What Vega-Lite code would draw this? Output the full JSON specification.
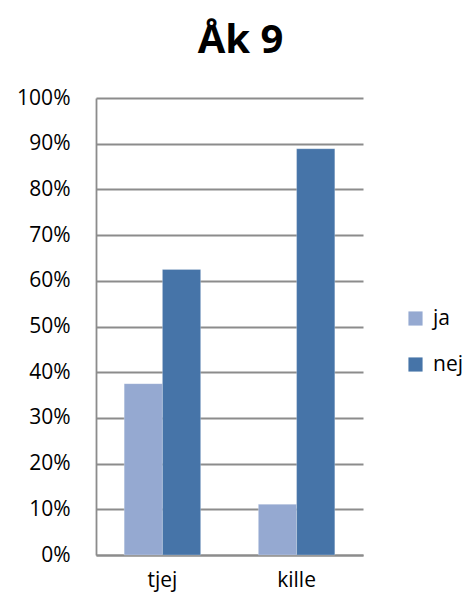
{
  "$schema": "https://vega.github.io/schema/vega-lite/v6.json",
  "width": 267,
  "height": 457,
  "autosize": {"type": "none"},
  "padding": {"left": 96, "top": 98, "right": 101, "bottom": 47},
  "background": "white",
  "title": {
    "text": "Åk 9",
    "font": "Open Sans",
    "fontSize": 40,
    "fontWeight": "bold",
    "color": "#000000",
    "anchor": "middle",
    "dx": 11,
    "offset": 26
  },
  "data": {
    "values": [
      {"kön": "tjej", "svar": "ja", "andel": 0.375},
      {"kön": "tjej", "svar": "nej", "andel": 0.625},
      {"kön": "kille", "svar": "ja", "andel": 0.111},
      {"kön": "kille", "svar": "nej", "andel": 0.889}
    ]
  },
  "mark": {"type": "bar", "stroke": "#ffffff", "strokeWidth": 0.5, "strokeOpacity": 0.5},
  "encoding": {
    "x": {
      "field": "kön",
      "type": "nominal",
      "sort": ["tjej", "kille"],
      "scale": {"paddingInner": 0.43, "paddingOuter": 0.21},
      "axis": {
        "title": null,
        "labelAngle": 0,
        "labelFont": "Open Sans",
        "labelFontSize": 21,
        "labelColor": "#000000",
        "labelPadding": 14,
        "ticks": false,
        "domainColor": "#8c8c8c",
        "domainWidth": 1.8
      }
    },
    "xOffset": {
      "field": "svar",
      "type": "nominal",
      "sort": ["ja", "nej"],
      "scale": {"paddingInner": 0, "paddingOuter": 0}
    },
    "y": {
      "field": "andel",
      "type": "quantitative",
      "scale": {"domain": [0, 1], "nice": false},
      "axis": {
        "title": null,
        "format": ".0%",
        "values": [0, 0.1, 0.2, 0.3, 0.4, 0.5, 0.6, 0.7, 0.8, 0.9, 1],
        "labelFont": "Open Sans",
        "labelFontSize": 21,
        "labelColor": "#000000",
        "labelPadding": 26,
        "ticks": false,
        "grid": true,
        "gridColor": "#8c8c8c",
        "gridWidth": 1.8,
        "domainColor": "#8c8c8c",
        "domainWidth": 1.8
      }
    },
    "color": {
      "field": "svar",
      "type": "nominal",
      "scale": {"domain": ["ja", "nej"], "range": ["#95a9d1", "#4674a8"]},
      "legend": {
        "title": null,
        "orient": "none",
        "legendX": 309,
        "legendY": 210,
        "symbolType": "square",
        "symbolSize": 200,
        "symbolStrokeWidth": 0,
        "labelFont": "Open Sans",
        "labelFontSize": 21,
        "labelColor": "#000000",
        "rowPadding": 24,
        "labelOffset": 7
      }
    }
  },
  "config": {
    "view": {"stroke": null},
    "axis": {"gridOpacity": 1, "domainOpacity": 1}
  }
}
